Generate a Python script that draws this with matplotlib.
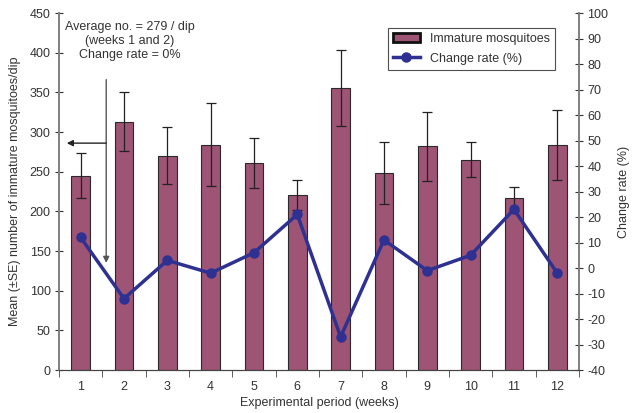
import matplotlib.pyplot as plt
import numpy as np

plt.rcParams['font.family'] = ['Liberation Sans', 'DejaVu Sans']
plt.rcParams['axes.unicode_minus'] = False

weeks = list(range(1, 13))
mean_counts = [245, 313, 270, 284, 261, 220, 355, 248, 283, 265, 217, 284]
upper_se = [274, 351, 306, 337, 293, 239, 403, 287, 325, 287, 231, 328]
lower_se = [217, 276, 234, 232, 230, 202, 307, 209, 238, 243, 201, 240]
change_rate = [12, -12, 3, -2, 6, 21, -27, 11, -1, 5, 23, -2]

bar_color = '#9E5475'
line_color = '#2E3192'
axis_gray = '#808080'
text_gray = '#333333'

mean_arr = np.array(mean_counts)
yerr = [mean_arr - np.array(lower_se), np.array(upper_se) - mean_arr]

fig = plt.figure(figsize=(6.39, 4.13), dpi=100)
ax = fig.add_axes([0.0923, 0.104, 0.8137, 0.8645])
ax2 = ax.twinx()

ax.bar(weeks, mean_counts, width=0.43, color=bar_color, edgecolor='#2a2a2a',
       linewidth=0.8, label='Immature mosquitoes', zorder=2)
ax.errorbar(weeks, mean_counts, yerr=yerr, fmt='none', ecolor='#222222',
            elinewidth=0.9, capsize=3.5, capthick=0.9, zorder=3)

ax2.plot(weeks, change_rate, color=line_color, linewidth=2.5, marker='o',
         markersize=6.5, label='Change rate (%)', zorder=4)

ax.set_xlim(0.5, 12.5)
ax.set_ylim(0, 450)
ax2.set_ylim(-40, 100)
ax.set_yticks(range(0, 451, 50))
ax2.set_yticks(range(-40, 101, 10))
ax.set_xticks(weeks)
ax.set_xticks(np.arange(0.5, 13, 1), minor=True)
ax.tick_params(axis='x', which='major', length=0, labelsize=9, colors=text_gray, pad=8)
ax.tick_params(axis='x', which='minor', length=5, direction='out', color='#444444')
ax.tick_params(axis='y', direction='inout', length=6, labelsize=9, colors=text_gray, pad=3)
ax2.tick_params(axis='y', direction='inout', length=6, labelsize=9, colors=text_gray, pad=3)

for a in (ax, ax2):
    a.spines['top'].set_visible(False)
    a.spines['left'].set_color(axis_gray)
    a.spines['right'].set_color(axis_gray)
    a.spines['bottom'].set_color('#444444')
    a.spines['left'].set_linewidth(1.2)
    a.spines['right'].set_linewidth(1.2)

ax.set_xlabel('Experimental period (weeks)', fontsize=9, color=text_gray, labelpad=3)
ax.set_ylabel('Mean (\u00b1SE) number of immature mosquitoes/dip', fontsize=9,
              color=text_gray, labelpad=6)
ax2.set_ylabel('Change rate (%)', fontsize=9, color=text_gray, labelpad=7)

ax.text(2.14, 415, 'Average no. = 279 / dip\n(weeks 1 and 2)\nChange rate = 0%',
        ha='center', va='center', fontsize=9, color=text_gray, linespacing=1.2)
ax.annotate('', xy=(1.59, 135), xytext=(1.59, 366),
            arrowprops=dict(arrowstyle='-|>', color='#555555', lw=1.0,
                            mutation_scale=9, shrinkA=0, shrinkB=0))
ax.annotate('', xy=(0.68, 286), xytext=(1.59, 286),
            arrowprops=dict(arrowstyle='-|>', color='#222222', lw=1.0,
                            mutation_scale=9, shrinkA=0, shrinkB=0))

h1, l1 = ax.get_legend_handles_labels()
h2, l2 = ax2.get_legend_handles_labels()
leg = ax2.legend(h1 + h2, l1 + l2, loc='upper left', bbox_to_anchor=(0.62, 0.975),
                 fontsize=9, frameon=True, fancybox=False, borderpad=0.4,
                 handlelength=2.2, labelspacing=0.6)
leg.get_frame().set_edgecolor('#222222')
leg.get_frame().set_linewidth(0.8)
leg.legend_handles[0].set_linewidth(2)
leg.legend_handles[0].set_edgecolor('#111111')
for t in leg.get_texts():
    t.set_color(text_gray)

fig.savefig('out.png', dpi=100)
